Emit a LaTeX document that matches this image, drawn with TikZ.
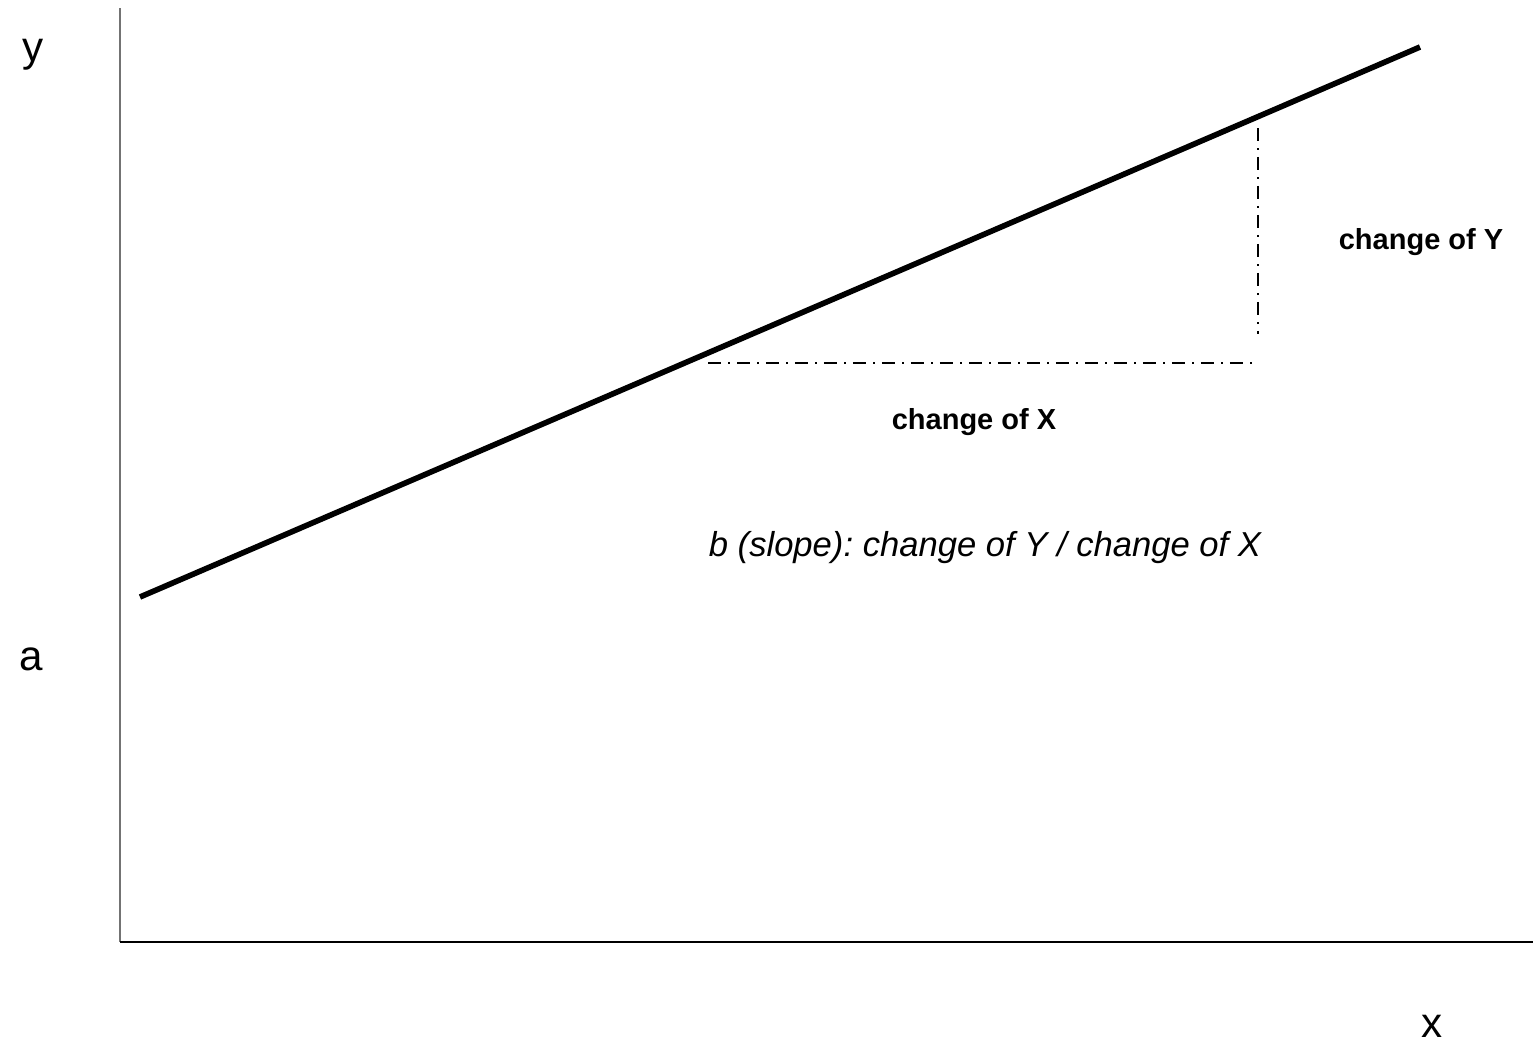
\documentclass[tikz,border=0pt]{standalone}
\usepackage{fontspec}
\setmainfont{Liberation Sans}
\usepackage{tikz}
\usetikzlibrary{positioning, calc}
\frenchspacing
\tikzstyle{axis} = [line width=1.1pt, draw=black]
\tikzstyle{regline} = [line width=3.2pt, draw=black]
\tikzstyle{helper} = [line width=0.8pt, dash pattern=on 7.5pt off 4pt on 1pt off 4pt]
\tikzstyle{axlabel} = [font=\fontsize{24}{28}\selectfont, inner sep=0pt]
\tikzstyle{blabel} = [font=\bfseries\fontsize{16.5}{20}\selectfont, inner sep=0pt]

\begin{document}
\begin{tikzpicture}[x=0.02cm, y=-0.02cm]
  \useasboundingbox (0,0) rectangle (1533,1045);

  % Axes
  \coordinate (origin) at (120,942);
  \coordinate (ytop) at (120,8);
  \coordinate (xend) at (1533,942);
  \draw[axis, draw=black!55, line width=0.8pt] (ytop) -- (origin);
  \draw[axis] (origin) -- (xend);

  % Axis labels
  \node[axlabel] (ylab) at (33,55) {y};
  \node[axlabel] (alab) at (31,659) {a};
  \node[axlabel] (xlab) at (1432,1026) {x};

  % Regression line
  \coordinate (start) at (140,597);
  \coordinate (stop) at (1420,47);
  \draw[regline] (start) -- (stop);

  % Slope triangle
  \coordinate (dxa) at (708,363);
  \coordinate (dxb) at (1258,363);
  \coordinate (dya) at (1258,128);
  \coordinate (dyb) at (1258,334);
  \draw[helper] (dxa) -- (dxb);
  \draw[helper] (dya) -- (dyb);

  % Labels
  \node[blabel] (dylab) at (1421,242) {change of Y};
  \node[blabel] (dxlab) at (974,422) {change of X};
  \node[font=\itshape\fontsize{19.7}{23}\selectfont, inner sep=0pt] (slope) at (985,548) {b (slope): change of Y / change of X};
\end{tikzpicture}
\end{document}
